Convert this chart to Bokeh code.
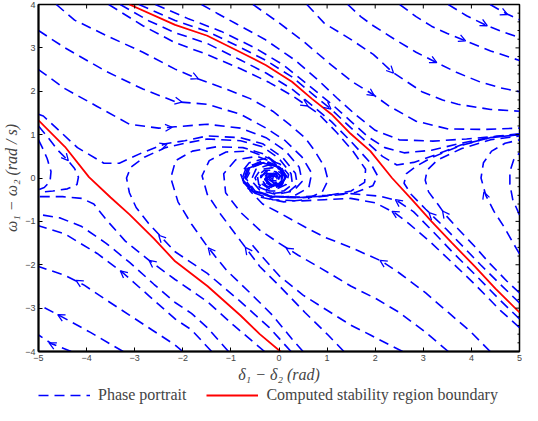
from bokeh.plotting import figure
from bokeh.layouts import column
from bokeh.models import (ColumnDataSource, Arrow, OpenHead, Legend, LegendItem, FixedTicker, Range1d)
from bokeh.embed import file_html
from bokeh.resources import INLINE

# ---------------- data ----------------
x_ticks = [-5, -4, -3, -2, -1, 0, 1, 2, 3, 4, 5]
y_ticks = [-4, -3, -2, -1, 0, 1, 2, 3, 4]

# computed stability region boundary (two red curves)
red_upper_x = [-3.11, -2.16, -1.49, -0.8, -0.27, 0.27, 0.68, 1.09, 1.49, 1.9, 2.35, 2.75, 3.17, 3.6, 4.07, 4.5, 5.0]
red_upper_y = [4.0, 3.53, 3.28, 2.9, 2.6, 2.22, 1.83, 1.47, 1.02, 0.62, 0.0, -0.48, -1.0, -1.5, -2.04, -2.55, -3.1]
red_lower_x = [-5.0, -4.45, -3.95, -3.5, -3.11, -2.6, -2.16, -1.49, -0.8, -0.4, 0.03]
red_lower_y = [1.33, 0.72, 0.02, -0.45, -0.84, -1.4, -1.92, -2.49, -3.17, -3.6, -4.0]

# phase portrait streamlines, by family
upper_escape_x = [
    [4.39, 4.74, 5.0],
    [3.52, 3.9, 4.33, 4.7, 5.0],
    [2.51, 2.85, 3.17, 3.5, 3.86, 4.4, 5.0],
    [1.43, 1.7, 1.96, 2.4, 2.85, 3.26, 3.7, 4.19, 4.6, 5.0],
    [0.58, 0.94, 1.5, 1.96, 2.36, 2.97, 3.4, 3.72, 4.4, 5.0],
    [-0.54, 0.01, 0.54, 1.09, 1.55, 1.96, 2.3, 2.85, 3.52, 4.3, 5.0],
]
upper_escape_y = [
    [4.0, 3.78, 3.65],
    [4.0, 3.74, 3.51, 3.35, 3.24],
    [4.0, 3.72, 3.5, 3.33, 3.17, 2.93, 2.71],
    [4.0, 3.72, 3.51, 3.2, 2.9, 2.67, 2.43, 2.21, 2.08, 1.99],
    [4.0, 3.57, 3.19, 2.85, 2.44, 1.99, 1.8, 1.7, 1.58, 1.54],
    [4.0, 3.57, 3.12, 2.6, 2.2, 1.92, 1.65, 1.31, 1.13, 1.12, 1.15],
]

near_red_out_x = [
    [-2.91, -2.16, -1.49, -0.8, -0.27, 0.27, 0.68, 1.09, 1.49, 1.85, 2.15, 2.45, 2.8, 3.17, 3.78, 4.39, 5.0],
    [-2.57, -1.9, -1.2, -0.5, 0.1, 0.6, 1.1, 1.5, 1.85, 2.2, 2.6, 3.17, 3.78, 4.39, 5.0],
    [-1.61, -1.29, -0.88, -0.3, 0.33, 0.82, 1.2, 1.6, 2.0, 2.5, 3.2, 3.9, 4.5, 5.0],
]
near_red_out_y = [
    [4.0, 3.63, 3.38, 3.01, 2.71, 2.33, 1.95, 1.58, 1.16, 0.8, 0.5, 0.3, 0.36, 0.5, 0.76, 0.93, 1.0],
    [4.0, 3.68, 3.38, 3.0, 2.6, 2.15, 1.7, 1.3, 0.95, 0.7, 0.58, 0.64, 0.8, 0.94, 1.01],
    [4.0, 3.8, 3.55, 3.2, 2.72, 2.25, 1.85, 1.45, 1.1, 0.88, 0.85, 0.9, 0.96, 1.02],
]

near_red_in_x = [
    [-3.3, -2.7, -2.16, -1.49, -0.8, -0.27, 0.27, 0.68, 1.09, 1.49, 1.9, 2.05, 1.95, 1.6, 1.0, 0.42, -0.13,
     -0.54, -0.72, -0.6, -0.3, 0.0, 0.14, 0.05, -0.15, -0.27, -0.16, -0.05],
    [-3.54, -2.83, -2.16, -1.5, -0.8, -0.2, 0.3, 0.8, 1.2, 1.55, 1.8, 1.78, 1.5, 0.94, 0.42, -0.13, -0.54,
     -0.75, -0.65, -0.35, 0.0, 0.15, 0.05, -0.15, -0.27, -0.15, -0.05],
]
near_red_in_y = [
    [4.0, 3.62, 3.35, 3.1, 2.72, 2.42, 2.05, 1.68, 1.3, 0.85, 0.35, 0.05, -0.18, -0.33, -0.4, -0.44, -0.42,
     -0.28, -0.02, 0.25, 0.36, 0.25, 0.03, -0.15, -0.17, -0.03, 0.07, 0.03],
    [4.0, 3.51, 3.12, 2.85, 2.52, 2.2, 1.88, 1.5, 1.05, 0.6, 0.2, -0.1, -0.3, -0.42, -0.45, -0.43, -0.3,
     -0.05, 0.22, 0.35, 0.25, 0.03, -0.15, -0.17, -0.03, 0.07, 0.02],
]

upper_left_in_x = [
    [-4.63, -4.25, -3.58, -2.83, -2.16, -1.69, -1.1, -0.6, -0.13, 0.21, 0.54, 0.74, 0.95, 1.02, 0.9, 0.55,
     0.1, -0.35, -0.7, -0.8, -0.62, -0.3, 0.02, 0.2, 0.15, -0.05, -0.28, -0.38, -0.28, -0.08, 0.04, -0.02, -0.14, -0.12],
    [-5.0, -4.45, -3.58, -2.83, -2.16, -1.49, -0.8, -0.27, 0.13, 0.48, 0.68, 0.62, 0.3, -0.15, -0.5, -0.68,
     -0.55, -0.25, 0.05, 0.15, 0.05, -0.17, -0.3, -0.2, -0.05, -0.04],
    [-5.0, -4.45, -3.78, -3.11, -2.5, -2.16, -1.49, -0.8, -0.27, 0.13, 0.42, 0.48, 0.3, -0.05, -0.4, -0.58,
     -0.48, -0.22, 0.02, 0.1, 0.0, -0.18, -0.25, -0.15, -0.05],
    [-5.0, -4.9, -4.19, -3.64, -3.32, -2.83, -2.36, -1.96, -1.49, -0.8, -0.34, 0.07, 0.34, 0.38, 0.2, -0.1,
     -0.4, -0.5, -0.38, -0.12, 0.05, 0.05, -0.1, -0.22, -0.15, -0.06],
]
upper_left_in_y = [
    [4.0, 3.64, 3.28, 2.9, 2.51, 2.29, 2.05, 1.83, 1.54, 1.24, 0.93, 0.63, 0.25, -0.05, -0.32, -0.5,
     -0.55, -0.45, -0.2, 0.1, 0.35, 0.45, 0.32, 0.08, -0.15, -0.25, -0.18, 0.0, 0.15, 0.15, 0.04, -0.07, -0.06, 0.03],
    [3.4, 3.0, 2.45, 2.05, 1.76, 1.7, 1.47, 1.15, 0.86, 0.48, 0.11, -0.22, -0.42, -0.45, -0.3, -0.02,
     0.25, 0.38, 0.25, 0.02, -0.16, -0.18, -0.03, 0.1, 0.07, -0.03],
    [2.5, 2.06, 1.65, 1.24, 1.15, 1.18, 1.24, 1.15, 0.93, 0.63, 0.25, -0.08, -0.3, -0.38, -0.28, -0.05,
     0.2, 0.3, 0.2, 0.0, -0.13, -0.12, 0.0, 0.08, 0.04],
    [1.47, 1.43, 0.7, 0.34, 0.34, 0.59, 0.79, 0.86, 0.97, 0.93, 0.79, 0.48, 0.11, -0.15, -0.32, -0.35,
     -0.22, 0.0, 0.2, 0.24, 0.1, -0.07, -0.12, -0.03, 0.06, 0.03],
]

lower_in_x = [
    [0.25, -0.2, -0.8, -1.49, -2.16, -2.71, -2.97, -3.11, -3.17, -3.08, -2.8, -2.36, -1.96, -1.49, -0.8, -0.34,
     0.0, 0.25, 0.28, 0.1, -0.2, -0.42, -0.45, -0.3, -0.1, 0.02, -0.02, -0.14, -0.2, -0.12],
    [0.5, 0.27, -0.13, -0.6, -1.09, -1.49, -1.82, -2.1, -2.25, -2.15, -1.8, -1.3, -0.75, -0.3, 0.0, 0.12,
     0.05, -0.2, -0.38, -0.38, -0.22, -0.06, 0.0, -0.1, -0.16],
    [1.35, 1.02, 0.54, 0.01, -0.4, -0.8, -1.21, -1.49, -1.6, -1.45, -1.1, -0.6, -0.2, 0.05, 0.1, -0.05,
     -0.25, -0.35, -0.25, -0.1, -0.03],
    [2.57, 2.3, 1.9, 1.49, 1.0, 0.5, 0.0, -0.4, -0.55],
    [3.52, 3.04, 2.5, 2.03, 1.49, 0.9, 0.4, 0.0, -0.4, -0.8, -1.11, -1.15, -0.9, -0.45, -0.1, 0.08, 0.05,
     -0.15, -0.3, -0.25, -0.1],
    [4.39, 3.99, 3.52, 3.05, 2.5, 2.14, 1.49, 0.94, 0.54, 0.07, -0.34, -0.6, -0.7, -0.58, -0.3, 0.0, 0.12,
     0.02, -0.18, -0.28, -0.18, -0.06],
]
lower_in_y = [
    [-4.0, -3.45, -2.85, -2.2, -1.7, -1.05, -0.68, -0.34, 0.0, 0.25, 0.48, 0.7, 0.8, 0.9, 0.86, 0.72,
     0.45, 0.1, -0.15, -0.3, -0.3, -0.15, 0.05, 0.18, 0.18, 0.06, -0.06, -0.08, 0.0, 0.05],
    [-4.0, -3.71, -3.17, -2.65, -2.13, -1.58, -1.06, -0.55, 0.0, 0.4, 0.62, 0.72, 0.7, 0.55, 0.3, 0.05,
     -0.18, -0.25, -0.12, 0.05, 0.14, 0.1, -0.02, -0.07, 0.0],
    [-4.0, -3.62, -3.1, -2.49, -2.04, -1.45, -0.84, -0.38, 0.05, 0.4, 0.6, 0.62, 0.45, 0.2, -0.05, -0.2,
     -0.2, -0.05, 0.1, 0.1, 0.0],
    [-4.0, -3.85, -3.62, -3.39, -3.05, -2.7, -2.25, -1.75, -1.55],
    [-4.0, -3.55, -3.1, -2.79, -2.49, -2.1, -1.78, -1.5, -1.2, -0.79, -0.34, 0.1, 0.42, 0.5, 0.35, 0.1, -0.12,
     -0.2, -0.08, 0.07, 0.08],
    [-4.0, -3.55, -3.1, -2.65, -2.19, -1.92, -1.6, -1.36, -1.13, -0.84, -0.6, -0.3, 0.0, 0.28, 0.38, 0.25, 0.02,
     -0.16, -0.17, -0.03, 0.08, 0.05],
]

right_in_x = [
    [5.0, 4.6, 4.07, 3.6, 3.17, 2.8, 2.45, 2.1, 1.49, 0.94, 0.42, -0.13, -0.54, -0.75, -0.65, -0.35, 0.0,
     0.15, 0.05, -0.15, -0.27, -0.15, -0.05],
    [5.0, 4.6, 4.07, 3.6, 3.17, 2.7, 2.4, 2.0, 1.49, 0.94, 0.42, -0.13, -0.55, -0.78, -0.68, -0.38, 0.0,
     0.16, 0.06, -0.16, -0.29, -0.17, -0.05],
]
right_in_y = [
    [-3.25, -2.82, -2.22, -1.7, -1.2, -0.78, -0.52, -0.42, -0.36, -0.42, -0.46, -0.43, -0.3, -0.05, 0.22, 0.35, 0.25,
     0.03, -0.15, -0.17, -0.03, 0.07, 0.02],
    [-3.45, -3.05, -2.45, -1.95, -1.5, -1.05, -0.8, -0.57, -0.47, -0.5, -0.53, -0.5, -0.33, -0.05, 0.24, 0.38, 0.27,
     0.04, -0.16, -0.19, -0.04, 0.08, 0.03],
]

right_out_x = [
    [5.0, 4.6, 4.19, 3.86, 3.46, 3.05, 2.75, 2.6, 2.65, 2.85, 3.17, 3.78, 4.39, 5.0],
    [5.0, 4.74, 4.39, 4.07, 3.72, 3.46, 3.3, 3.11, 3.04, 3.08, 3.3, 3.8, 4.4, 5.0],
    [5.0, 4.88, 4.68, 4.47, 4.3, 4.2, 4.25, 4.42, 4.7, 5.0],
    [5.0, 4.86, 4.8, 4.8, 4.88, 5.0],
]
right_out_y = [
    [-2.88, -2.45, -2.0, -1.62, -1.16, -0.72, -0.38, -0.12, 0.1, 0.27, 0.47, 0.75, 0.93, 1.0],
    [-2.65, -2.38, -1.98, -1.58, -1.17, -0.85, -0.6, -0.32, -0.05, 0.18, 0.42, 0.68, 0.88, 0.97],
    [-1.75, -1.52, -1.13, -0.77, -0.4, 0.0, 0.35, 0.62, 0.8, 0.88],
    [-0.85, -0.5, -0.15, 0.15, 0.42, 0.58],
]

left_out_x = [
    [-5.0, -4.8, -4.59, -4.39, -4.25, -4.17, -4.2, -4.4, -4.7, -5.0],
    [-5.0, -4.92, -4.82, -4.74, -4.76, -4.88, -5.0],
    [-0.3, -0.94, -1.49, -2.16, -2.7, -3.2, -3.6, -3.85, -4.1, -4.5, -5.0],
    [-1.05, -1.49, -1.82, -2.16, -2.6, -3.1, -3.6, -4.1, -4.55, -5.0],
    [-1.4, -1.82, -2.16, -2.71, -3.24, -3.78, -4.45, -5.0],
    [-2.0, -2.16, -2.63, -3.11, -3.58, -4.05, -4.46, -5.0],
    [-3.24, -3.92, -4.53, -5.0],
    [-4.32, -4.73, -5.0],
]
left_out_y = [
    [1.2, 0.93, 0.63, 0.41, 0.22, 0.02, -0.15, -0.25, -0.3, -0.33],
    [0.88, 0.7, 0.45, 0.15, -0.08, -0.22, -0.27],
    [-4.0, -3.4, -2.85, -2.34, -1.9, -1.45, -0.95, -0.6, -0.47, -0.43, -0.43],
    [-4.0, -3.45, -3.12, -2.87, -2.45, -1.95, -1.5, -1.12, -0.92, -0.84],
    [-4.0, -3.5, -3.25, -2.71, -2.19, -1.74, -1.29, -1.1],
    [-4.0, -3.85, -3.51, -3.16, -2.82, -2.47, -2.24, -2.04],
    [-4.0, -3.56, -3.19, -2.92],
    [-4.0, -3.82, -3.62],
]

# direction arrows on the streamlines (tail -> head)
arrow_x0 = [4.55, 4.1, 3.65, 3.05, 2.22, 1.82, -1.9, -2.25, -2.45, -2.55, -4.52, 0.4, 0.9,
            -1.3, -0.5, 0.35, 2.3, 2.62, 2.55, 3.3, 3.55, 4.33, -2.3, -2.5, -3.1, -4.0, -4.4, -4.6]
arrow_y0 = [3.87, 3.64, 3.27, 2.79, 2.6, 2.02, 2.4, 1.8, 1.15, 0.7, 0.58, 1.8, 1.75,
            -1.84, -1.9, -1.75, -2.04, -0.66, -0.9, -1.0, -0.98, -0.55, -1.55, -2.07, -2.32, -2.5, -3.27, -3.9]
arrow_x1 = [4.75, 4.33, 3.88, 3.28, 2.38, 1.98, -1.68, -2.02, -2.22, -2.33, -4.38, 0.6, 1.08,
            -1.47, -0.7, 0.15, 2.1, 2.42, 2.35, 3.12, 3.4, 4.26, -2.5, -2.7, -3.3, -4.22, -4.6, -4.78]
arrow_y1 = [3.77, 3.51, 3.16, 2.66, 2.42, 1.9, 2.29, 1.75, 1.17, 0.78, 0.4, 1.66, 1.59,
            -1.61, -1.6, -1.62, -1.9, -0.5, -0.77, -0.8, -0.76, -0.32, -1.32, -1.9, -2.14, -2.36, -3.15, -3.8]

legend_labels = ["Phase portrait", "Computed stability region boundary"]

# ---------------- figure ----------------
BLUE = "#0000ff"
RED = "#ff0000"
DASH = "10 6"

stream_xs = (upper_escape_x + near_red_out_x + near_red_in_x + upper_left_in_x +
             lower_in_x + right_in_x + right_out_x + left_out_x)
stream_ys = (upper_escape_y + near_red_out_y + near_red_in_y + upper_left_in_y +
             lower_in_y + right_in_y + right_out_y + left_out_y)

p = figure(width=522, height=385, x_range=(-5, 5), y_range=(-4, 4),
           output_backend="svg", toolbar_location=None,
           min_border_left=31, min_border_right=3, min_border_top=4, min_border_bottom=34)
p.grid.visible = False
p.outline_line_color = "black"
p.outline_line_width = 1.5
p.background_fill_color = "white"
p.border_fill_color = "white"

p.multi_line(xs=stream_xs, ys=stream_ys, line_color=BLUE, line_width=1.6, line_dash=DASH)
p.line(red_upper_x, red_upper_y, line_color=RED, line_width=1.8)
p.line(red_lower_x, red_lower_y, line_color=RED, line_width=1.8)

arrows_src = ColumnDataSource(dict(x0=arrow_x0, y0=arrow_y0, x1=arrow_x1, y1=arrow_y1))
p.add_layout(Arrow(end=OpenHead(size=7, line_color=BLUE, line_width=1.3),
                   x_start="x0", y_start="y0", x_end="x1", y_end="y1",
                   source=arrows_src, line_alpha=0))

# inward tick marks on the right (major + minor) and top frame edges
right_major = y_ticks
right_minor = [t + k * 0.2 for t in y_ticks[:-1] for k in (1, 2, 3, 4)]
p.scatter([5.0] * len(right_major), right_major, marker="dash", size=8, line_color="black", line_width=1)
p.scatter([5.0] * len(right_minor), right_minor, marker="dash", size=4, line_color="black", line_width=1)
p.scatter(x_ticks, [4.0] * len(x_ticks), marker="dash", size=8, angle=1.5708,
          line_color="black", line_width=1)

tick_font = "Liberation Sans"
for ax in (p.xaxis[0], p.yaxis[0]):
    ax.major_tick_in = 4
    ax.major_tick_out = 0
    ax.minor_tick_in = 0
    ax.minor_tick_out = 0
    ax.axis_line_width = 2
    ax.major_label_text_font = tick_font
    ax.major_label_text_font_size = "9px"
    ax.major_label_text_color = "#444444"
    ax.major_label_standoff = 3
    ax.axis_label_text_font = "Liberation Serif"
    ax.axis_label_text_font_style = "italic"
    ax.axis_label_text_font_size = "16px"
    ax.axis_label_standoff = 2
p.xaxis[0].ticker = FixedTicker(ticks=x_ticks)
p.yaxis[0].ticker = FixedTicker(ticks=y_ticks)
p.xaxis[0].axis_label = "δ₁ − δ₂ (rad)"
p.yaxis[0].axis_label = "ω₁ − ω₂ (rad / s)"

# legend strip below the chart (its sample lines lie outside the strip's visible range)
pl = figure(width=522, height=20, x_range=Range1d(0, 1), y_range=Range1d(0, 1),
            output_backend="svg", toolbar_location=None, x_axis_type=None, y_axis_type=None,
            min_border_left=0, min_border_right=0, min_border_top=0, min_border_bottom=0,
            outline_line_color=None)
pl.grid.visible = False
lg_blue = pl.line([-3, -2], [-3, -2], line_color=BLUE, line_width=1.6, line_dash=DASH)
lg_red = pl.line([-3, -2], [-3, -2], line_color=RED, line_width=1.8)
legend = Legend(items=[LegendItem(label=legend_labels[0], renderers=[lg_blue]),
                       LegendItem(label=legend_labels[1], renderers=[lg_red])],
                orientation="horizontal", location=(0, 1),
                glyph_width=52, glyph_height=16, label_height=16, label_standoff=8, spacing=20,
                padding=0, margin=0, border_line_alpha=0, background_fill_alpha=0,
                label_text_font="Liberation Serif", label_text_font_size="16px")
pl.add_layout(legend, "center")

open("out.html", "w").write(file_html(column(p, pl, spacing=0), INLINE))
